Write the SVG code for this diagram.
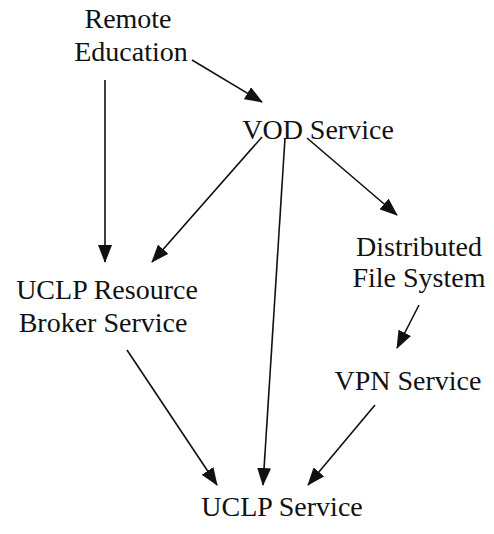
<svg xmlns="http://www.w3.org/2000/svg" width="494" height="534" viewBox="0 0 494 534">
  <style>
    .lbl { font-family: 'Liberation Serif', 'Times New Roman', 'DejaVu Serif', serif; font-size: 28px; fill: #111; }
    .edge { stroke: #111; stroke-width: 1.6; fill: none; marker-end: url(#arrow); }
  </style>
  <defs>
    <marker id="arrow" markerUnits="userSpaceOnUse" markerWidth="18" markerHeight="14" viewBox="0 0 18 14" refX="17" refY="7" orient="auto">
      <path d="M0,0 L18,7 L0,14 Z" fill="#111"/>
    </marker>
  </defs>
  <rect width="494" height="534" fill="#fff"/>

  <g id="connectors">
    <line class="edge" x1="192" y1="60" x2="262" y2="102"/>
    <line class="edge" x1="105" y1="80" x2="105" y2="262"/>
    <line class="edge" x1="262" y1="137" x2="152" y2="262"/>
    <line class="edge" x1="285" y1="138" x2="263" y2="485"/>
    <line class="edge" x1="307" y1="138" x2="397" y2="215"/>
    <line class="edge" x1="419" y1="305" x2="397" y2="348"/>
    <line class="edge" x1="127" y1="350" x2="217" y2="485"/>
    <line class="edge" x1="375" y1="405" x2="308" y2="485"/>
  </g>

  <g class="lbl" font-family="Liberation Serif, serif" text-anchor="middle">
    <g id="remote-education">
      <text x="128" y="28">Remote</text>
      <text x="131" y="61">Education</text>
    </g>
    <g id="vod-service">
      <text x="318" y="139">VOD Service</text>
    </g>
    <g id="distributed-file-system">
      <text x="419" y="256">Distributed</text>
      <text x="419" y="287">File System</text>
    </g>
    <g id="uclp-resource-broker">
      <text x="107" y="299">UCLP Resource</text>
      <text x="103" y="332">Broker Service</text>
    </g>
    <g id="vpn-service">
      <text x="408" y="390">VPN Service</text>
    </g>
    <g id="uclp-service">
      <text x="282" y="516">UCLP Service</text>
    </g>
  </g>
</svg>
